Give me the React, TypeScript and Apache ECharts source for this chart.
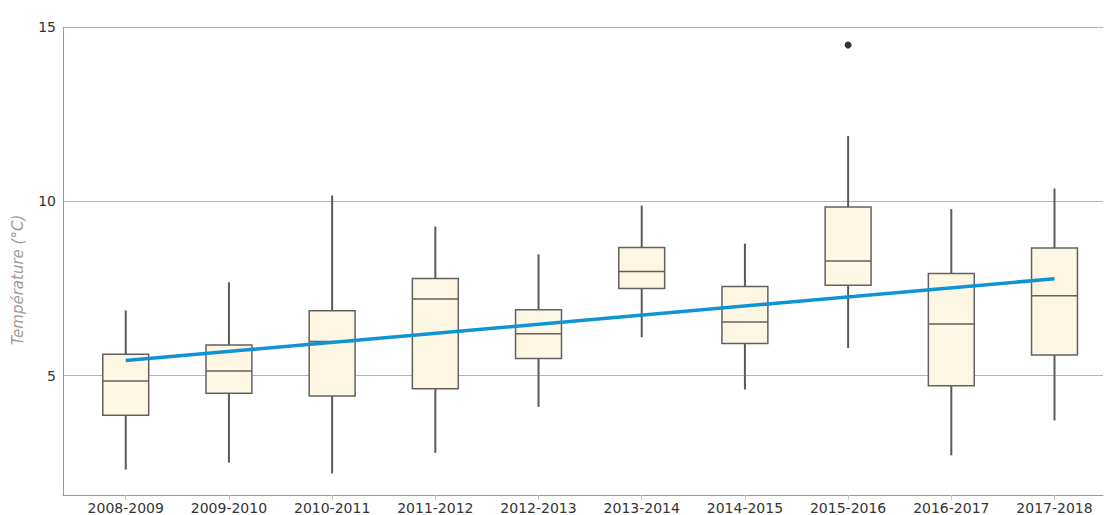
import React, { useEffect, useRef } from 'react';
import * as echarts from 'echarts';

const seasons = ['2008-2009', '2009-2010', '2010-2011', '2011-2012', '2012-2013', '2013-2014', '2014-2015', '2015-2016', '2016-2017', '2017-2018'];
const whiskerLow = [2.30, 2.50, 2.19, 2.78, 4.10, 6.10, 4.60, 5.79, 2.71, 3.71];
const quartile1 = [3.86, 4.49, 4.41, 4.62, 5.49, 7.50, 5.92, 7.59, 4.71, 5.59];
const medians = [4.84, 5.13, 5.98, 7.20, 6.20, 7.99, 6.54, 8.29, 6.48, 7.29];
const quartile3 = [5.61, 5.88, 6.86, 7.79, 6.89, 8.68, 7.56, 9.84, 7.93, 8.66];
const whiskerHigh = [6.87, 7.68, 10.17, 9.28, 8.48, 9.88, 8.79, 11.88, 9.78, 10.37];
const outliers: [number, number][] = [[7, 14.49]];
const trendStart = 5.43;
const trendEnd = 7.78;
const yTicks = [5, 10, 15];
const xTicks = seasons.map((_, i) => i);

const FONT = '"DejaVu Sans", sans-serif';

export default function App() {
  const ref = useRef<HTMLDivElement>(null);
  useEffect(() => {
    if (!ref.current) return;
    const chart = echarts.init(ref.current, null, { renderer: 'svg' });
    const boxData = seasons.map((_, i) => [i, whiskerLow[i], quartile1[i], medians[i], quartile3[i], whiskerHigh[i]]);
    const option: any = {
      animation: false,
      backgroundColor: '#ffffff',
      grid: { left: 63, right: 2, top: 27.3, bottom: 19.3, containLabel: false },
      xAxis: {
        type: 'value',
        min: -0.608,
        max: 9.47,
        splitLine: { show: false },
        axisLine: { show: true, onZero: false, lineStyle: { color: '#999999', width: 1 } },
        axisTick: { show: true, customValues: xTicks, length: 5, lineStyle: { color: '#c8c8c8' } },
        axisLabel: {
          customValues: xTicks,
          formatter: (v: number) => seasons[Math.round(v)] ?? '',
          color: '#333333',
          fontSize: 14,
          fontFamily: FONT,
          margin: 6,
        },
      },
      yAxis: {
        type: 'value',
        min: 1.57,
        max: 15,
        axisLine: { show: true, onZero: false, lineStyle: { color: '#999999', width: 1 } },
        axisTick: { show: false, customValues: yTicks },
        axisLabel: { customValues: yTicks, color: '#333333', fontSize: 14, fontFamily: FONT, margin: 7 },
        splitLine: { show: true, lineStyle: { color: '#b4b4b4', width: 1 } },
      },
      graphic: [
        {
          type: 'text',
          x: 17.5,
          y: 280,
          rotation: Math.PI / 2,
          style: {
            text: 'Température (°C)',
            align: 'center',
            verticalAlign: 'middle',
            fontStyle: 'italic',
            fontSize: 15,
            fontFamily: FONT,
            fill: '#9c9c9c',
          },
        },
      ],
      series: [
        {
          type: 'custom',
          data: boxData,
          encode: { x: 0, y: [1, 2, 3, 4, 5] },
          z: 2,
          renderItem: (params: any, api: any) => {
            const x = api.value(0);
            const lo = api.coord([x, api.value(1)]);
            const b1 = api.coord([x, api.value(2)]);
            const md = api.coord([x, api.value(3)]);
            const b3 = api.coord([x, api.value(4)]);
            const hi = api.coord([x, api.value(5)]);
            const w = api.size([1, 0])[0] * 0.445;
            const cx = lo[0];
            const whisker = { stroke: '#5a5a5a', lineWidth: 2 };
            const border = { stroke: '#616161', lineWidth: 1.5 };
            return {
              type: 'group',
              children: [
                { type: 'line', shape: { x1: cx, y1: hi[1], x2: cx, y2: b3[1] }, style: whisker },
                { type: 'line', shape: { x1: cx, y1: b1[1], x2: cx, y2: lo[1] }, style: whisker },
                {
                  type: 'rect',
                  shape: { x: cx - w / 2, y: b3[1], width: w, height: b1[1] - b3[1] },
                  style: { fill: '#fdf6e3', ...border },
                },
                { type: 'line', shape: { x1: cx - w / 2, y1: md[1], x2: cx + w / 2, y2: md[1] }, style: border },
              ],
            };
          },
        },
        {
          type: 'line',
          data: [[0, trendStart], [seasons.length - 1, trendEnd]],
          symbol: 'none',
          z: 3,
          lineStyle: { color: '#0e93d5', width: 3.5 },
        },
        {
          type: 'scatter',
          data: outliers,
          symbol: 'circle',
          symbolSize: 7,
          z: 4,
          itemStyle: { color: '#000000' },
        },
      ],
    };
    chart.setOption(option);
    return () => chart.dispose();
  }, []);
  return (
    <div
      ref={ref}
      style={{ position: 'absolute', left: 0, top: 0, width: 1105, height: 515, background: '#fff' }}
    />
  );
}
